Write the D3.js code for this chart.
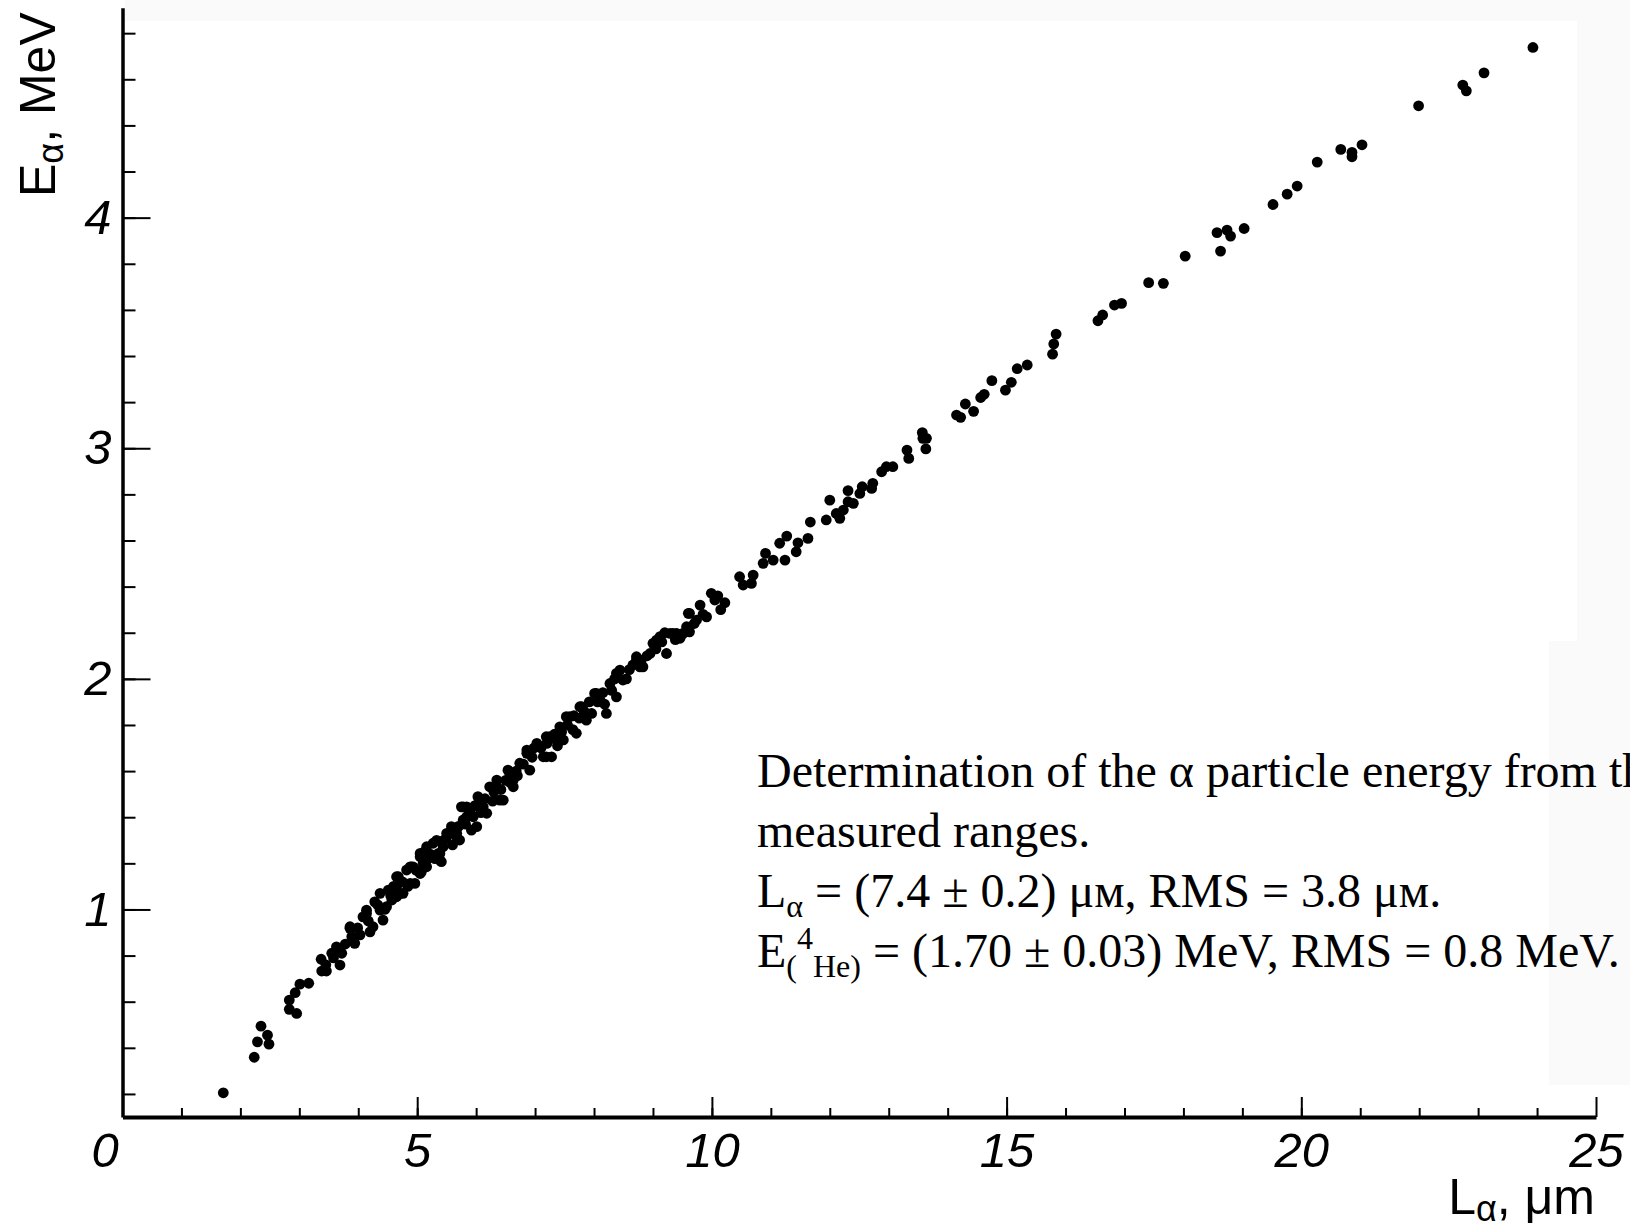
<!DOCTYPE html>
<html>
<head>
<meta charset="utf-8">
<script src="https://cdn.jsdelivr.net/npm/d3@7"></script>
<style>
  body { margin: 0; background: #fff; }
  svg { display: block; }
</style>
</head>
<body>
<svg id="chart" width="1630" height="1232"></svg>
<script>
// alpha track range (um) vs energy (MeV)
const rangeUm = [
  1.71, 2.235, 2.29, 2.35, 2.46, 2.485, 2.83, 2.955, 2.83, 2.93, 3.01, 3.16, 3.37, 3.38, 3.46, 3.55,
  3.63, 3.69, 3.72, 3.86, 3.89, 3.94, 4.08, 4.14, 4.2, 4.28, 4.37, 4.42, 4.51, 4.57, 4.65, 4.71,
  4.68, 4.82, 4.9, 4.96, 5.05, 5.07, 5.16, 5.27, 5.36, 5.41, 5.5, 5.58, 5.67, 5.72, 5.78, 5.84,
  5.95, 6.01, 6.12, 6.18,
  4.65, 4.76, 4.88, 5.05, 5.16, 5.385, 5.44, 5.67, 5.75, 5.84, 5.92, 6.03, 6.23, 6.35, 6.46, 6.54,
  6.63, 6.74, 6.86, 6.91, 7.03, 7.14, 7.25, 7.28, 7.42, 7.48, 7.59, 7.7, 7.79, 7.87, 8.01, 8.1,
  8.21, 8.27, 8.38, 8.44, 8.49, 8.72, 8.83, 8.95, 9.0, 9.12, 9.23, 9.34, 9.46, 9.57, 9.6,
  8.04, 7.76, 7.53, 7.36, 7.19, 7.08, 7.19, 6.86, 6.57, 6.63, 6.4, 6.35, 6.06, 5.78, 5.5, 5.385,
  5.16, 4.93, 5.05, 4.88, 4.65, 4.37, 4.48, 4.14, 4.25, 3.86, 3.91,
  3.45, 3.58, 3.78, 3.99, 4.03, 4.17, 4.33, 4.45, 4.55, 4.6, 4.75, 4.84, 4.98, 5.1, 5.12, 5.22,
  5.3, 5.33, 5.45, 5.55, 5.6, 5.7, 5.82, 5.9, 5.98, 6.08, 6.15, 6.28, 6.3, 6.42, 6.5, 6.58,
  6.68, 6.7, 6.8, 6.95, 6.98, 7.1, 7.2, 7.33, 7.38, 7.45, 7.55, 7.64, 7.66, 7.75, 7.83, 7.92,
  7.96, 8.06, 8.15, 8.18, 8.3, 8.35, 8.55, 8.6, 8.66, 8.8, 8.9, 9.05, 9.15, 9.2, 9.38, 9.7,
  9.85, 10.1, 10.15,
  8.38, 8.72, 8.78, 9.06, 9.29, 9.4, 9.51, 9.62, 9.62, 9.74, 9.8, 9.91, 9.99, 10.05, 10.22, 10.47,
  10.53, 10.67, 10.7, 10.87, 10.91, 11.04, 11.15, 11.24, 11.27, 11.43, 11.46, 11.63, 11.67, 11.94,
  12.0, 12.11, 12.17, 12.23, 12.31, 12.31, 12.4, 12.51, 12.55, 12.71, 12.73, 12.88, 12.96, 13.07,
  13.31, 13.34, 13.57, 13.58, 13.64, 13.63, 14.15, 14.22, 14.3, 14.44, 14.56, 14.62, 14.75, 14.98,
  15.08, 15.18, 15.35, 15.78, 15.8, 15.84, 16.55, 16.63, 16.83, 16.95,
  17.41, 17.66, 18.03, 18.57, 18.63, 18.74, 18.8, 19.03, 19.52, 19.76, 19.93, 20.27, 20.67, 20.86,
  20.86, 21.03, 21.99, 22.74, 22.8, 23.1, 23.93
];
const energyMeV = [
  0.205, 0.359, 0.426, 0.494, 0.455, 0.416, 0.567, 0.549, 0.607, 0.639, 0.676, 0.68, 0.784, 0.733, 0.733, 0.81,
  0.838, 0.759, 0.81, 0.918, 0.882, 0.853, 0.968, 0.997, 0.903, 1.033, 0.997, 0.954, 1.084, 1.041, 1.055, 1.07,
  1.142, 1.171, 1.185, 1.113, 1.243, 1.163, 1.214, 1.287, 1.243, 1.207, 1.315, 1.359, 1.315, 1.301, 1.388, 1.445,
  1.402, 1.359, 1.445, 1.417,
  1.098, 1.07, 1.185, 1.229, 1.185, 1.214, 1.272, 1.33, 1.445, 1.402, 1.344, 1.489, 1.532, 1.561, 1.474, 1.604,
  1.561, 1.634, 1.691, 1.604, 1.72, 1.662, 1.749, 1.662, 1.792, 1.735, 1.836, 1.764, 1.879, 1.821, 1.937, 1.908,
  1.85, 1.98, 1.922, 2.038, 1.995, 2.082, 2.052, 2.11, 2.154, 2.183, 2.11, 2.197, 2.176, 2.226, 2.284,
  1.937, 1.879, 1.836, 1.735, 1.749, 1.706, 1.662, 1.677, 1.59, 1.532, 1.474, 1.532, 1.474, 1.445, 1.33, 1.243,
  1.272, 1.185, 1.156, 1.113, 1.142, 1.07, 1.012, 0.983, 0.925, 0.925, 0.867,
  0.76, 0.79, 0.85, 0.92, 0.89, 0.95, 1.02, 1.0, 1.06, 1.1, 1.12, 1.1, 1.17, 1.2, 1.25, 1.24,
  1.22, 1.3, 1.3, 1.33, 1.28, 1.36, 1.37, 1.42, 1.45, 1.42, 1.48, 1.47, 1.51, 1.52, 1.56, 1.55,
  1.6, 1.58, 1.63, 1.66, 1.7, 1.7, 1.72, 1.76, 1.71, 1.77, 1.8, 1.78, 1.84, 1.83, 1.86, 1.9,
  1.85, 1.9, 1.94, 1.89, 1.95, 2.0, 2.0, 2.04, 2.06, 2.08, 2.1, 2.13, 2.16, 2.2, 2.17, 2.24,
  2.28, 2.36, 2.3,
  2.024, 2.096, 2.052, 2.168, 2.197, 2.197, 2.197, 2.204, 2.284, 2.255, 2.32, 2.269, 2.371, 2.342, 2.33, 2.443,
  2.407, 2.414, 2.45, 2.501, 2.544, 2.515, 2.588, 2.515, 2.619, 2.551, 2.59, 2.609, 2.68, 2.689,
  2.775, 2.717, 2.696, 2.732, 2.816, 2.768, 2.761, 2.804, 2.833, 2.826, 2.848, 2.898, 2.92, 2.92,
  2.992, 2.956, 3.068, 3.043, 3.043, 2.997, 3.144, 3.134, 3.192, 3.16, 3.22, 3.234, 3.293, 3.252,
  3.286, 3.345, 3.361, 3.408, 3.452, 3.495, 3.553, 3.578, 3.621, 3.628,
  3.718, 3.715, 3.833, 3.935, 3.855, 3.946, 3.92, 3.953, 4.057, 4.102, 4.137, 4.241, 4.296, 4.283,
  4.264, 4.316, 4.485, 4.575, 4.55, 4.628, 4.738
];

const xMajorTicks = [0, 5, 10, 15, 20, 25];
const xTickLabels = ["0", "5", "10", "15", "20", "25"];
const yMajorTicks = [1, 2, 3, 4];
const yTickLabels = ["1", "2", "3", "4"];

// the caption runs off the right edge in the original
const noteLines = [
  "Determination of the \u03b1 particle energy from the",
  "measured ranges."
];

const svg = d3.select("#chart");

// faint grey patches of the scanned original
svg.append("rect").attr("x", 125).attr("y", 0).attr("width", 1505).attr("height", 21).attr("fill", "#fafafa");
svg.append("rect").attr("x", 1577).attr("y", 21).attr("width", 53).attr("height", 620).attr("fill", "#fafafa");
svg.append("rect").attr("x", 1549).attr("y", 641).attr("width", 81).attr("height", 444).attr("fill", "#fafafa");

const x = d3.scaleLinear().domain([0, 25]).range([122.5, 1596]);
const y = d3.scaleLinear().domain([0.1, 4.91]).range([1117, 7.8]);

const tickFont = "'Liberation Sans', Arial, Helvetica, sans-serif";

// minor ticks first, majors on top
svg.append("g")
  .attr("transform", `translate(0,${y(0.1)})`)
  .call(d3.axisBottom(x).tickValues(d3.range(1, 25)).tickSizeInner(-9).tickSizeOuter(0).tickFormat(""))
  .call(g => g.select(".domain").remove())
  .call(g => g.selectAll("line").attr("stroke", "#000").attr("stroke-width", 2));

svg.append("g")
  .attr("transform", `translate(${x(0)},0)`)
  .call(d3.axisLeft(y).tickValues(d3.range(1, 25).map(v => v / 5)).tickSizeInner(-13).tickSizeOuter(0).tickFormat(""))
  .call(g => g.select(".domain").remove())
  .call(g => g.selectAll("line").attr("stroke", "#000").attr("stroke-width", 2));

const xAxis = svg.append("g")
  .attr("transform", `translate(0,${y(0.1)})`)
  .call(d3.axisBottom(x).tickValues(xMajorTicks).tickSizeInner(-20).tickSizeOuter(0).tickPadding(15)
    .tickFormat((d, i) => xTickLabels[i]));

xAxis.select(".domain").attr("stroke", "#000").attr("stroke-width", 4);
xAxis.selectAll("line").attr("stroke", "#000").attr("stroke-width", 2);
xAxis.selectAll("text")
  .attr("font-family", tickFont)
  .attr("font-size", 49)
  .attr("font-style", "italic")
  .attr("fill", "#000");
xAxis.selectAll(".tick").filter(d => d === 0).select("text").attr("dx", -18);

const yAxis = svg.append("g")
  .attr("transform", `translate(${x(0)},0)`)
  .call(d3.axisLeft(y).tickValues(yMajorTicks).tickSizeInner(-28).tickSizeOuter(0).tickPadding(11)
    .tickFormat((d, i) => yTickLabels[i]));

yAxis.select(".domain").attr("stroke", "#000").attr("stroke-width", 3.5);
yAxis.selectAll("line").attr("stroke", "#000").attr("stroke-width", 2);
yAxis.selectAll("text")
  .attr("font-family", tickFont)
  .attr("font-size", 49)
  .attr("font-style", "italic")
  .attr("fill", "#000");

// axis titles
const xTitle = svg.append("text")
  .attr("x", 1595)
  .attr("y", 1214)
  .attr("text-anchor", "end")
  .attr("font-family", tickFont)
  .attr("font-size", 50);
xTitle.append("tspan").text("L");
xTitle.append("tspan").attr("font-size", 36).attr("dy", 7).text("\u03b1");
xTitle.append("tspan").attr("dy", -7).text(", \u03bcm");

const yTitle = svg.append("text")
  .attr("transform", "translate(55,197) rotate(-90)")
  .attr("font-family", tickFont)
  .attr("font-size", 50);
yTitle.append("tspan").text("E");
yTitle.append("tspan").attr("font-size", 36).attr("dy", 8).text("\u03b1");
yTitle.append("tspan").attr("dy", -8).text(", MeV");

// data points
svg.append("g")
  .selectAll("circle")
  .data(rangeUm.map((l, i) => [l, energyMeV[i]]))
  .join("circle")
  .attr("cx", d => x(d[0]))
  .attr("cy", d => y(d[1]))
  .attr("r", 5.4)
  .attr("fill", "#000");

// caption block
const serif = "'Liberation Serif', 'Times New Roman', Times, serif";
const note = svg.append("g")
  .attr("font-family", serif)
  .attr("font-size", 48)
  .attr("fill", "#000");

note.selectAll("text.plain")
  .data(noteLines)
  .join("text")
  .attr("class", "plain")
  .attr("x", 757)
  .attr("y", (d, i) => 787 + i * 60)
  .text(d => d);

const l3 = note.append("text").attr("x", 757).attr("y", 907);
l3.append("tspan").text("L");
l3.append("tspan").attr("font-size", 32).attr("dy", 10).text("\u03b1");
l3.append("tspan").attr("dy", -10).text(" = (7.4 \u00b1 0.2) \u03bc\u043c, RMS = 3.8 \u03bc\u043c.");

const l4 = note.append("text").attr("x", 757).attr("y", 967);
l4.append("tspan").text("E");
l4.append("tspan").attr("font-size", 32).attr("dy", 10).text("(");
l4.append("tspan").attr("font-size", 32).attr("dy", -28).text("4");
l4.append("tspan").attr("font-size", 32).attr("dy", 28).text("He)");
l4.append("tspan").attr("dy", -10).text(" = (1.70 \u00b1 0.03) MeV, RMS = 0.8 MeV.");
</script>
</body>
</html>
